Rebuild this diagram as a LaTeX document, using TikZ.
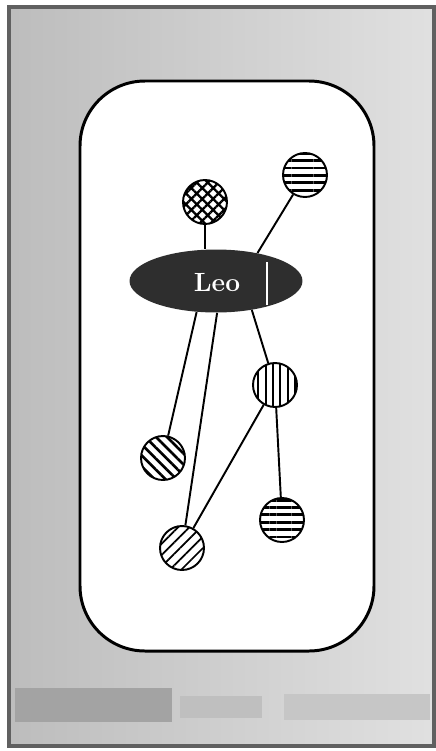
\documentclass[tikz,border=0pt]{standalone}
\usetikzlibrary{shapes.geometric,patterns.meta}
\tikzset{
  ball/.style={circle, draw, line width=1.1pt, fill=white, minimum size=0.88cm, inner sep=0pt},
  link/.style={line width=1.1pt},
}
\begin{document}
\begin{tikzpicture}[x=0.02cm, y=-0.02cm]
  \useasboundingbox (0,0) rectangle (436,751);
  % Frame
  \fill[left color=gray!52, right color=gray!24] (9,7) rectangle (434,746);
  \fill[gray!72] (15,688) rectangle (172,722);
  \fill[gray!50] (180,696) rectangle (262,718);
  \fill[gray!45] (284,694) rectangle (430,720);
  \draw[line width=2.3pt, gray!75!black] (9,7) rectangle (434,746);
  % Room
  \draw[line width=1.7pt, fill=white, rounded corners=1.3cm] (80,81) rectangle (374,651);
  % Leo
  \node[ellipse, fill=black!82, minimum width=3.46cm, minimum height=1.26cm, inner sep=0pt] (leo) at (216,281) {};
  \node[text=white, font=\fontsize{15}{18}\selectfont\bfseries] (leotext) at (217,283) {Leo};
  \draw[white, line width=1.2pt] (267,262) -- (267,305);
  % Balls
  \node[ball, postaction={pattern={Hatch[angle=45, distance=4.4pt, line width=1.3pt]}}] (cross) at (205,202) {};
  \node[ball, postaction={pattern={Lines[angle=0, distance=4.2pt, line width=1.6pt]}}] (htop) at (305,175) {};
  \node[ball, postaction={pattern={Lines[angle=90, distance=4.2pt, line width=1.2pt]}}] (vert) at (275,385) {};
  \node[ball, postaction={pattern={Lines[angle=-45, distance=4.4pt, line width=1.5pt]}}] (diagl) at (163,458) {};
  \node[ball, postaction={pattern={Lines[angle=0, distance=4.2pt, line width=1.6pt]}}] (hbot) at (282,520) {};
  \node[ball, postaction={pattern={Lines[angle=45, distance=4.6pt, line width=1.0pt]}}] (diagr) at (182,548) {};
  % Links
  \draw[link] (cross) -- (cross |- leo.north);
  \draw[link] (leo.34) -- (htop);
  \draw[link] (leo.238) -- (diagl);
  \draw[link] (leo.272) -- (diagr);
  \draw[link] (leo.321) -- (vert);
  \draw[link] (vert) -- (diagr);
  \draw[link] (vert) -- (hbot);
\end{tikzpicture}
\end{document}
